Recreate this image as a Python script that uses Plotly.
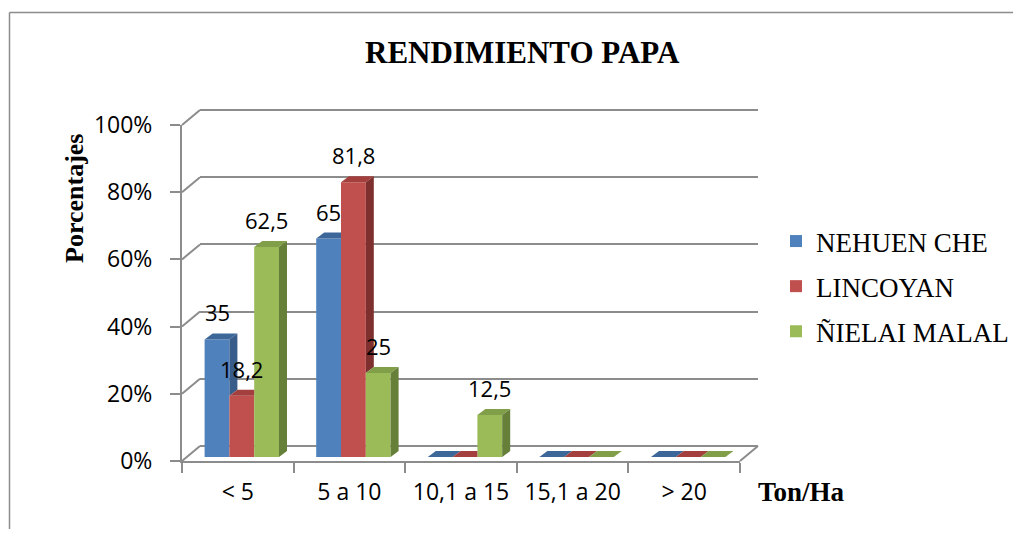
import plotly.graph_objects as go

# ---------------- data ----------------
categories = ["< 5", "5 a 10", "10,1 a 15", "15,1 a 20", "> 20"]
series_names = ["NEHUEN CHE", "LINCOYAN", "ÑIELAI MALAL"]
nehuen_che = [35, 65, 0, 0, 0]
lincoyan = [18.2, 81.8, 0, 0, 0]
nielai_malal = [62.5, 25, 12.5, 0, 0]
y_tick_values = [0, 20, 40, 60, 80, 100]
y_tick_labels = ["0%", "20%", "40%", "60%", "80%", "100%"]

series_values = [nehuen_che, lincoyan, nielai_malal]
front_colors = ["#4F81BD", "#C0504D", "#9BBB59"]
top_colors = ["#3D6699", "#A3403E", "#819E48"]
side_colors = ["#385D8A", "#7E302E", "#667F39"]

# ---------------- layout geometry (target pixels) ----------------
OFF = 8                    # page body margin offset
W, H = 1021 - 2 * OFF, 557 - 2 * OFF - 20   # keep the page from overflowing
FX0, FX1 = 182, 740        # front x extent
FY0, FY1 = 461, 125        # front y: 0% and 100%
MID = 4                    # bars sit slightly back in depth
BDX, BDY = 18, 15          # back wall offset
BAR_DX, BAR_DY = 8, 6      # bar depth in pixels
GRID = "#8C8C8C"
Y_MAX = 100

def px(x):
    return (x - OFF) / W

def py(y):
    return (H - (y - OFF)) / H

def xdom(x0, x1):
    return [px(x0), px(x1)]

def ydom(y0, y1):
    return [py(y0), py(y1)]

n_cat = len(categories)
n_ser = len(series_values)
bargap = 1 / 3
bar_w = (1 - bargap) / n_ser
px_per_cat = (FX1 - FX0) / n_cat
px_per_unit = (FY0 - FY1) / Y_MAX
dx = BAR_DX / px_per_cat
dy = BAR_DY / px_per_unit

fig = go.Figure()

# back wall subplot (x/y), front axes (x2/y2), bars (x3/y3)
fig.add_trace(go.Scatter(x=categories, y=[None] * n_cat, xaxis="x", yaxis="y",
                         showlegend=False, hoverinfo="skip", mode="markers"))
fig.add_trace(go.Scatter(x=categories, y=[None] * n_cat, xaxis="x2", yaxis="y2",
                         showlegend=False, hoverinfo="skip", mode="markers"))

for i, (name, vals) in enumerate(zip(series_names, series_values)):
    fig.add_trace(go.Bar(
        x=categories, y=vals, name=name, xaxis="x3", yaxis="y3",
        marker=dict(color=front_colors[i], line=dict(width=0)),
        legendgroup=name, hoverinfo="x+y+name",
    ))

shapes = []
annotations = []

# 3D faces of bars
for i, vals in enumerate(series_values):
    for c, v in enumerate(vals):
        center = c + (-(1 - bargap) / 2 + bar_w * (i + 0.5))
        xl, xr = center - bar_w / 2, center + bar_w / 2
        nxt = series_values[i + 1][c] if i + 1 < n_ser else 0
        if nxt > v:
            path = f"M{xl},{v} L{xr},{v} L{xr},{v + dy} L{xl + dx},{v + dy} Z"
        else:
            path = f"M{xl},{v} L{xr},{v} L{xr + dx},{v + dy} L{xl + dx},{v + dy} Z"
        shapes.append(dict(type="path", xref="x3", yref="y3", path=path,
                           fillcolor=top_colors[i], line=dict(width=0), layer="above"))
        if v > nxt:
            path = (f"M{xr},{nxt} L{xr + dx},{nxt + dy} L{xr + dx},{v + dy} "
                    f"L{xr},{v} Z")
            shapes.append(dict(type="path", xref="x3", yref="y3", path=path,
                               fillcolor=side_colors[i], line=dict(width=0), layer="above"))
        if v > 0:
            annotations.append(dict(
                x=center, y=v, xref="x3", yref="y3", yshift=27,
                text=f"{v:g}".replace(".", ","), showarrow=False,
                font=dict(family="Open Sans", size=22, color="black"),
            ))

# diagonals from front ticks to the back wall
for v in y_tick_values:
    yf = FY0 - v * px_per_unit
    shapes.append(dict(type="line", xref="paper", yref="paper",
                       x0=px(FX0), y0=py(yf), x1=px(FX0 + BDX), y1=py(yf - BDY),
                       line=dict(color=GRID, width=2), layer="below"))
# right floor edge
shapes.append(dict(type="line", xref="paper", yref="paper",
                   x0=px(FX1), y0=py(FY0), x1=px(FX1 + BDX), y1=py(FY0 - BDY),
                   line=dict(color=GRID, width=2), layer="below"))
# chart border: left and top edges
shapes.append(dict(type="line", xref="paper", yref="paper",
                   x0=px(9.5), x1=px(9.5), y0=0, y1=py(12.5),
                   line=dict(color="#8C8C8C", width=1.5), layer="below"))
shapes.append(dict(type="line", xref="paper", yref="paper",
                   x0=px(9.5), x1=1, y0=py(12.5), y1=py(12.5),
                   line=dict(color="#8C8C8C", width=1.5), layer="below"))

# titles
annotations.append(dict(text="<b>RENDIMIENTO PAPA</b>", x=px(522), y=py(53),
                        xref="paper", yref="paper", showarrow=False,
                        xanchor="center", yanchor="middle",
                        font=dict(family="Liberation Serif", size=31, color="black")))
annotations.append(dict(text="<b>Porcentajes</b>", x=px(75), y=py(199),
                        xref="paper", yref="paper", showarrow=False, textangle=-90,
                        xanchor="center", yanchor="middle",
                        font=dict(family="Liberation Serif", size=26, color="black")))
annotations.append(dict(text="<b>Ton/Ha</b>", x=px(801), y=py(492),
                        xref="paper", yref="paper", showarrow=False,
                        xanchor="center", yanchor="middle",
                        font=dict(family="Liberation Serif", size=27, color="black")))

tick_font = dict(family="Open Sans", size=23, color="black")

back_top = 101  # extend slightly so the 100% grid line is drawn
fig.update_layout(
    width=W, height=H,
    margin=dict(l=0, r=0, t=0, b=0, autoexpand=False),
    paper_bgcolor="white", plot_bgcolor="rgba(0,0,0,0)",
    barmode="group", bargap=bargap, bargroupgap=0,
    showlegend=True,
    legend=dict(x=px(776), y=py(217), xanchor="left", yanchor="top",
                font=dict(family="Liberation Serif", size=27, color="black"),
                tracegroupgap=7, bgcolor="rgba(0,0,0,0)", traceorder="grouped",
                borderwidth=0, bordercolor="rgba(0,0,0,0)"),
    # back wall
    xaxis=dict(domain=xdom(FX0 + BDX, FX1 + BDX), anchor="y",
               type="category", categoryorder="array", categoryarray=categories,
               range=[-0.5, n_cat - 0.5], showgrid=False, showticklabels=False,
               zeroline=False, showline=False, ticks=""),
    yaxis=dict(domain=ydom(FY0 - BDY, FY0 - BDY - back_top * px_per_unit),
               anchor="x", range=[0, back_top], tickvals=y_tick_values,
               showgrid=True, gridcolor=GRID, gridwidth=2, showticklabels=False,
               zeroline=True, zerolinecolor=GRID, zerolinewidth=2,
               showline=False, ticks=""),
    # front axes
    xaxis2=dict(domain=xdom(FX0, FX1), anchor="y2", type="category",
                categoryorder="array", categoryarray=categories,
                range=[-0.5, n_cat - 0.5], showgrid=False, zeroline=False,
                showline=True, linecolor=GRID, linewidth=2,
                ticks="outside", tickson="boundaries", ticklen=10, tickwidth=2,
                tickcolor=GRID, tickfont=tick_font, ticklabelstandoff=9),
    yaxis2=dict(domain=ydom(FY0, FY1), anchor="x2", range=[0, Y_MAX],
                tickvals=y_tick_values, ticktext=y_tick_labels,
                showgrid=False, zeroline=False, showline=True, linecolor=GRID,
                linewidth=2, ticks="outside", ticklen=10, tickwidth=2,
                tickcolor=GRID, tickfont=tick_font, ticklabelstandoff=13),
    # bars (slightly behind the front plane)
    xaxis3=dict(domain=xdom(FX0 + MID, FX1 + MID), anchor="y3",
                type="category", categoryorder="array", categoryarray=categories,
                range=[-0.5, n_cat - 0.5], visible=False),
    yaxis3=dict(domain=ydom(FY0 - MID, FY1 - MID), anchor="x3",
                range=[0, Y_MAX], visible=False),
    shapes=shapes,
    annotations=annotations,
)

fig.write_html("out.html")
